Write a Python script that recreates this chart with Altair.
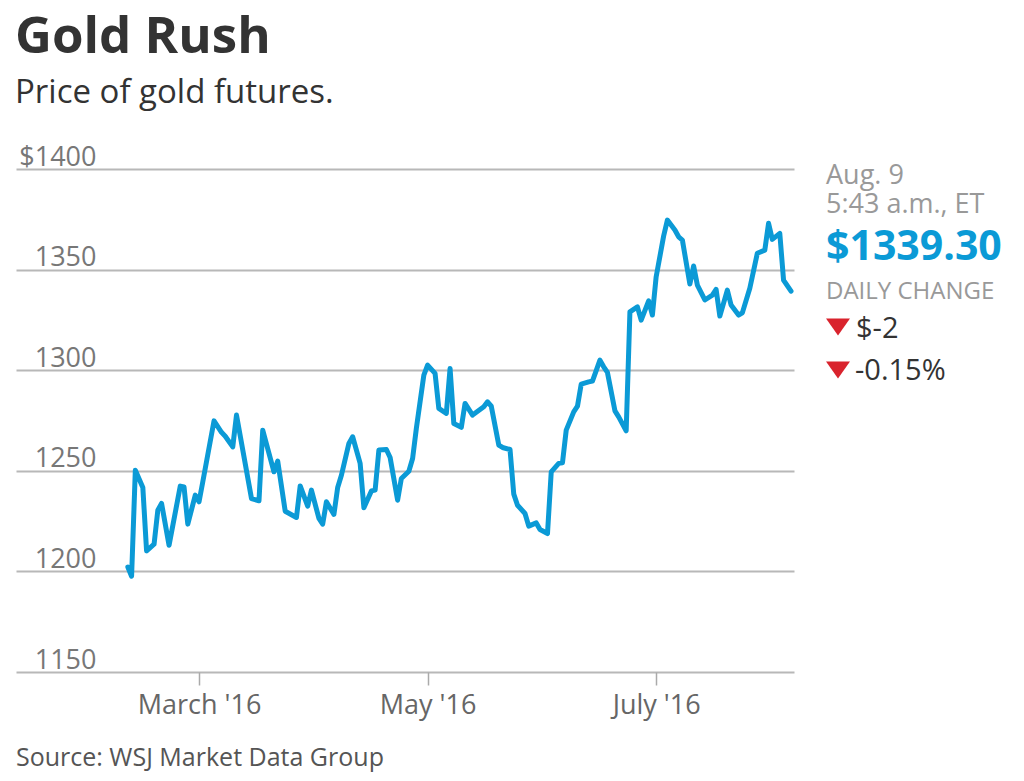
import altair as alt
import pandas as pd

# ---- data ----
dates = [
    "2016-02-11", "2016-02-12", "2016-02-13", "2016-02-15", "2016-02-16", "2016-02-18", "2016-02-19",
    "2016-02-20", "2016-02-22", "2016-02-25", "2016-02-26", "2016-02-27", "2016-02-29",
    "2016-03-01", "2016-03-02", "2016-03-05", "2016-03-07", "2016-03-08", "2016-03-10", "2016-03-11",
    "2016-03-15", "2016-03-17", "2016-03-18", "2016-03-21", "2016-03-22", "2016-03-24", "2016-03-27",
    "2016-03-28", "2016-03-30", "2016-03-31",
    "2016-04-02", "2016-04-03", "2016-04-04", "2016-04-06", "2016-04-07", "2016-04-08", "2016-04-10",
    "2016-04-11", "2016-04-13", "2016-04-14", "2016-04-16", "2016-04-17", "2016-04-18", "2016-04-20",
    "2016-04-21", "2016-04-23", "2016-04-24", "2016-04-26", "2016-04-27", "2016-04-28", "2016-04-30",
    "2016-05-01", "2016-05-03", "2016-05-04", "2016-05-06", "2016-05-07", "2016-05-08", "2016-05-10",
    "2016-05-11", "2016-05-13", "2016-05-16", "2016-05-17", "2016-05-18", "2016-05-20", "2016-05-21",
    "2016-05-23", "2016-05-24", "2016-05-25", "2016-05-27", "2016-05-28", "2016-05-30", "2016-05-31",
    "2016-06-02", "2016-06-03", "2016-06-05", "2016-06-06", "2016-06-07", "2016-06-09", "2016-06-10",
    "2016-06-11", "2016-06-13", "2016-06-14", "2016-06-16", "2016-06-17", "2016-06-18", "2016-06-20",
    "2016-06-21", "2016-06-23", "2016-06-24", "2016-06-26", "2016-06-27", "2016-06-29", "2016-06-30",
    "2016-07-01", "2016-07-03", "2016-07-04", "2016-07-06", "2016-07-07", "2016-07-08", "2016-07-10",
    "2016-07-11", "2016-07-12", "2016-07-14", "2016-07-16", "2016-07-17", "2016-07-18", "2016-07-20",
    "2016-07-21", "2016-07-23", "2016-07-24", "2016-07-26", "2016-07-28", "2016-07-30", "2016-07-31",
    "2016-08-01", "2016-08-03", "2016-08-04", "2016-08-06",
]
prices = [
    1202.2, 1197.6, 1250.3, 1241.7, 1210.2, 1213.5, 1230.4, 1233.8, 1213.0, 1242.4,
    1242.0, 1223.5, 1237.9, 1234.6, 1244.5, 1274.8, 1269.1, 1267.2, 1261.9, 1277.7,
    1236.2, 1235.1, 1270.2, 1249.5, 1254.8, 1229.9, 1226.8, 1242.5, 1232.4, 1240.4,
    1226.3, 1223.5, 1234.6, 1228.3, 1241.7, 1247.8, 1263.6, 1266.9, 1253.7, 1231.6,
    1240.0, 1240.4, 1260.3, 1260.6, 1256.6, 1235.4, 1246.2, 1249.8, 1256.1, 1271.1,
    1297.6, 1302.5, 1298.4, 1281.0, 1278.5, 1300.9, 1273.5, 1271.6, 1283.5, 1277.7,
    1281.8, 1284.3, 1282.1, 1262.8, 1261.6, 1260.6, 1238.4, 1232.9, 1228.8, 1222.5,
    1224.1, 1220.8, 1218.8, 1249.5, 1253.7, 1254.0, 1270.2, 1279.3, 1282.1, 1293.1,
    1294.2, 1294.6, 1305.0, 1301.7, 1298.9, 1279.8, 1276.8, 1269.9, 1329.0, 1331.5,
    1324.9, 1334.5, 1327.4, 1346.4, 1366.7, 1374.6, 1369.7, 1366.3, 1364.7, 1342.8,
    1351.8, 1342.3, 1334.9, 1337.3, 1340.2, 1326.9, 1339.8, 1332.4, 1327.4, 1328.5,
    1340.7, 1358.1, 1359.7, 1373.0, 1365.0, 1368.0, 1344.8, 1339.3,
]
y_ticks = [1150, 1200, 1250, 1300, 1350, 1400]

title_text = "Gold Rush"
subtitle_text = "Price of gold futures."
source_text = "Source: WSJ Market Data Group"
panel_date = "Aug. 9"
panel_time = "5:43 a.m., ET"
panel_price = "$1339.30"
panel_head = "DAILY CHANGE"
panel_change = "$-2"
panel_pct = "-0.15%"

# ---- styling ----
BLUE = "#0b9ad6"
RED = "#d9232d"
FONT = "Open Sans"

df = pd.DataFrame({"date": dates, "price": prices})

x_scale = alt.Scale(
    type="utc",
    domain=[
        alt.DateTime(year=2016, month=1, date=12, hours=3, minutes=36, utc=True),
        alt.DateTime(year=2016, month=8, date=6, hours=19, utc=True),
    ],
)
y_scale = alt.Scale(domain=[1150, 1400], nice=False, zero=False)

line = alt.Chart(df).mark_line(
    color=BLUE, strokeWidth=5, strokeJoin="round", strokeCap="round"
).encode(
    x=alt.X(
        "date:T",
        scale=x_scale,
        axis=alt.Axis(
            values=[
                alt.DateTime(year=2016, month=3, date=1, utc=True),
                alt.DateTime(year=2016, month=5, date=1, utc=True),
                alt.DateTime(year=2016, month=7, date=1, utc=True),
            ],
            format="%B '%y",
            title=None,
            grid=False,
            domain=False,
            tickSize=13,
            tickColor="#aaaaaa",
            tickWidth=1.5,
            labelFont=FONT,
            labelFontSize=27,
            labelColor="#666666",
            labelPadding=28,
            labelBaseline="alphabetic",
            labelFlush=False,
        ),
    ),
    y=alt.Y(
        "price:Q",
        scale=y_scale,
        axis=alt.Axis(
            values=y_ticks,
            format="d",
            labelExpr="datum.value == 1400 ? '$1400' : datum.label",
            title=None,
            domain=False,
            ticks=False,
            grid=True,
            gridColor="#b8b8b8",
            gridWidth=2,
            labelAlign="right",
            labelBaseline="alphabetic",
            labelPadding=-80,
            labelOffset=-4,
            labelFont=FONT,
            labelFontSize=27,
            labelColor="#777777",
        ),
    ),
)


def label(text, x, y, size, color, weight="normal"):
    return alt.Chart(alt.Data(values=[{"t": text}])).mark_text(
        align="left", baseline="alphabetic", font=FONT, fontSize=size,
        fontWeight=weight, color=color,
    ).encode(x=alt.value(x), y=alt.value(y), text="t:N")


def tri(x, y):
    return alt.Chart(alt.Data(values=[{"t": 1}])).mark_point(
        shape="M-1,-0.7L1,-0.7L0,0.7Z", size=576, filled=True, color=RED,
        opacity=1, strokeWidth=0,
    ).encode(x=alt.value(x), y=alt.value(y))


layers = [
    line,
    label(title_text, -1, -116, 51, "#333333", "bold"),
    label(subtitle_text, -1, -66, 33, "#333333"),
    label(panel_date, 810, 15, 27, "#999999"),
    label(panel_time, 810, 44, 27, "#999999"),
    label(panel_price, 810, 91, 41, BLUE, "bold"),
    label(panel_head, 810, 130, 24, "#999999"),
    tri(822, 158),
    label(panel_change, 840, 169, 29, "#333333"),
    tri(822, 201),
    label(panel_pct, 839, 211, 29, "#333333"),
    label(source_text, 0, 597, 25, "#555555"),
]

chart = alt.layer(*layers).properties(
    width=778,
    height=503,
    padding={"left": 8, "top": 161, "right": 214, "bottom": 105},
    autosize=alt.AutoSizeParams(type="none"),
).configure_view(stroke=None)

chart.save("out.html", embed_options={"renderer": "svg", "actions": False})
